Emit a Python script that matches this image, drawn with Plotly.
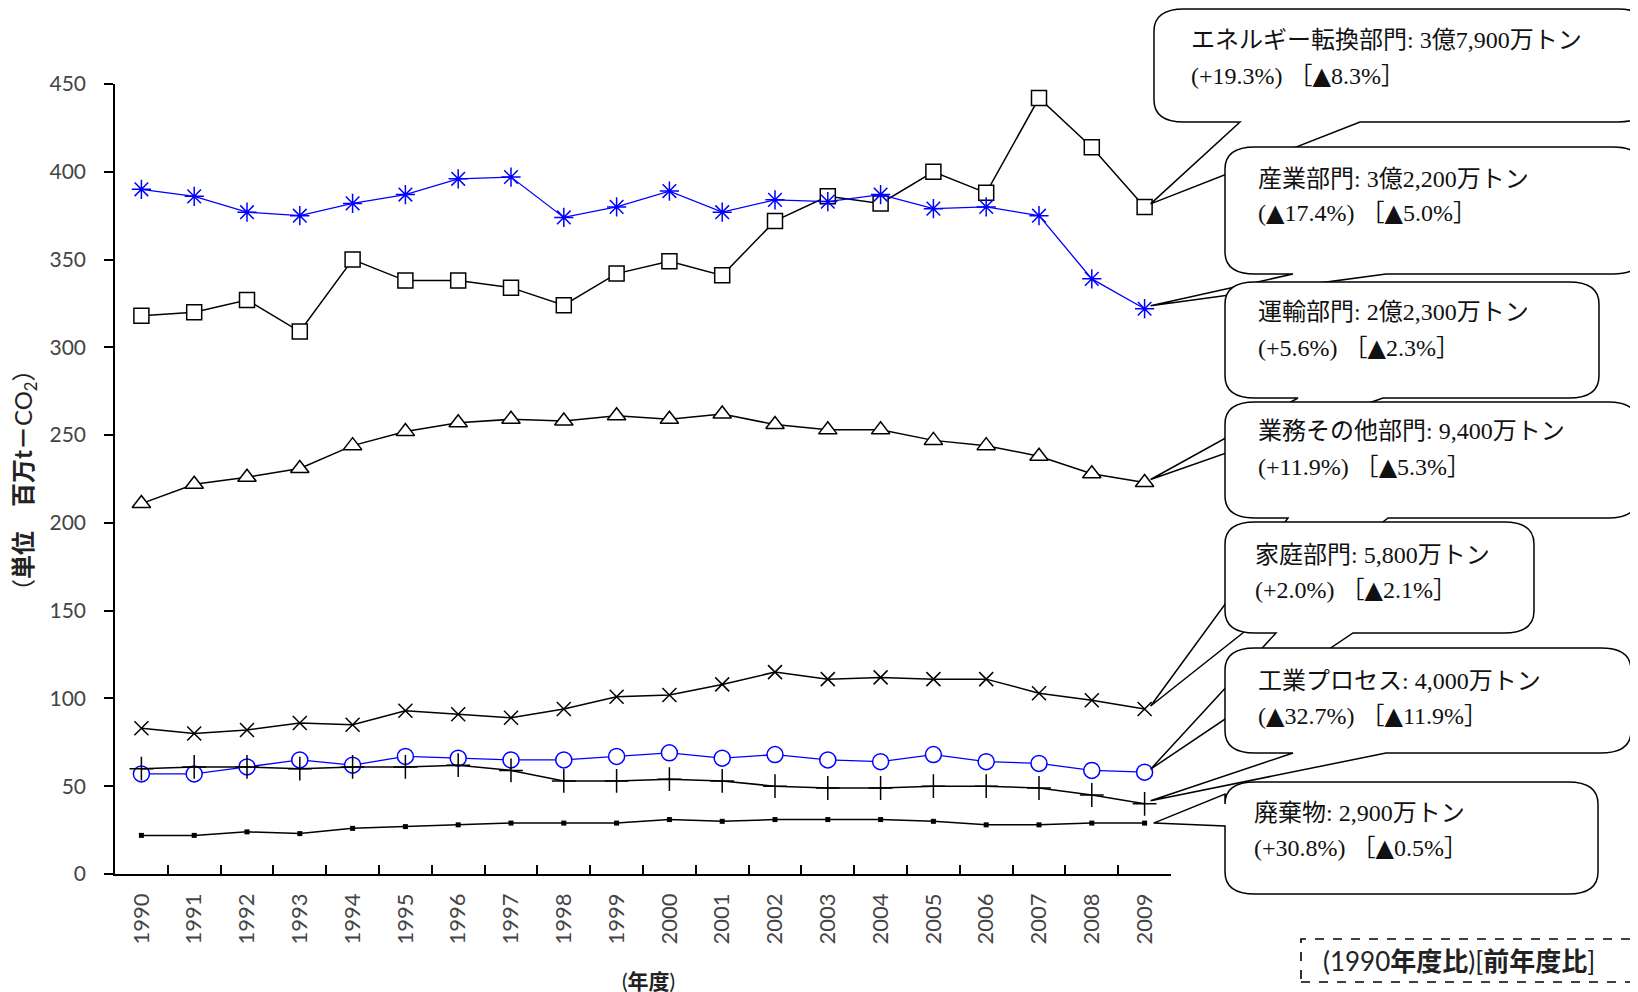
import plotly.graph_objects as go

years = [str(y) for y in range(1990, 2010)]
energy = [318, 320, 327, 309, 350, 338, 338, 334, 324, 342, 349, 341, 372, 386, 382, 400, 388, 442, 414, 380]
industry = [390, 386, 377, 375, 382, 387, 396, 397, 374, 380, 389, 377, 384, 383, 387, 379, 380, 375, 339, 322]
transport = [211, 222, 226, 231, 244, 252, 257, 259, 258, 261, 259, 262, 256, 253, 253, 247, 244, 238, 228, 223]
business = [83, 80, 82, 86, 85, 93, 91, 89, 94, 101, 102, 108, 115, 111, 112, 111, 111, 103, 99, 94]
household = [57, 57, 61, 65, 62, 67, 66, 65, 65, 67, 69, 66, 68, 65, 64, 68, 64, 63, 59, 58]
process = [60, 61, 61, 60, 61, 61, 62, 59, 53, 53, 54, 53, 50, 49, 49, 50, 50, 49, 45, 40]
waste = [22, 22, 24, 23, 26, 27, 28, 29, 29, 29, 31, 30, 31, 31, 31, 30, 28, 28, 29, 29]

TRI = '<span style="font-family:\'DejaVu Sans\'">▲</span>'
labels1 = ["エネルギー転換部門: 3億7,900万トン", "産業部門: 3億2,200万トン", "運輸部門: 2億2,300万トン",
           "業務その他部門: 9,400万トン", "家庭部門: 5,800万トン", "工業プロセス: 4,000万トン", "廃棄物: 2,900万トン"]
labels2 = ["(+19.3%) ［▲8.3%］", "(▲17.4%) ［▲5.0%］", "(+5.6%) ［▲2.3%］",
           "(+11.9%) ［▲5.3%］", "(+2.0%) ［▲2.1%］", "(▲32.7%) ［▲11.9%］", "(+30.8%) ［▲0.5%］"]

W, H = 1638, 992
L, T, R, B = 107, 76, 1163, 866
PW, PH = R - L, B - T
YMAX = 450

fig = go.Figure()
BLUE = "#0000FF"
# values, colour, symbol, size, line width, filled-white?
series = [
    (energy, "black", "square", 15, 1.5, True),
    (industry, BLUE, "asterisk-open", 16, 1.3, False),
    (transport, "black", "triangle-up", 16, 1.5, True),
    (business, "black", "x-thin-open", 14, 1.5, False),
    (household, BLUE, "circle", 16, 1.3, True),
    (process, "black", "cross-thin-open", 17, 1.5, False),
    (waste, "black", "square", 5, 1.5, None),
]
for vals, col, sym, sz, lw, filled in series:
    if filled is True:
        mk = dict(symbol=sym, size=sz, color="white", line=dict(color=col, width=1.5))
    elif filled is False:
        mk = dict(symbol=sym, size=sz, color=col, line=dict(color=col, width=1.5))
    else:
        mk = dict(symbol=sym, size=sz, color=col, line=dict(width=0))
    fig.add_trace(go.Scatter(x=years, y=vals, mode="lines+markers",
                             line=dict(color=col, width=lw), marker=mk,
                             showlegend=False, cliponaxis=False))


def xp(px):
    return (px - L) / PW


def yp(py):
    return (B - py) / PH


def data_px(i, v):
    return L + (i + 0.5) * PW / len(years), T + (YMAX - v) / YMAX * PH


def callout(x0, y0, x1, y1, tip, bottom=None, left=None, rx=30, ry=22):
    def P(x, y):
        return f"{xp(x):.5f},{yp(y):.5f}"
    s = f"M {P(x0 + rx, y0)} L {P(x1 - rx, y0)} Q {P(x1, y0)} {P(x1, y0 + ry)} "
    s += f"L {P(x1, y1 - ry)} Q {P(x1, y1)} {P(x1 - rx, y1)} "
    if bottom:
        s += f"L {P(bottom[1], y1)} L {P(*tip)} L {P(bottom[0], y1)} "
    s += f"L {P(x0 + rx, y1)} Q {P(x0, y1)} {P(x0, y1 - ry)} "
    if left:
        s += f"L {P(x0, left[1])} L {P(*tip)} L {P(x0, left[0])} "
    s += f"L {P(x0, y0 + ry)} Q {P(x0, y0)} {P(x0 + rx, y0)} Z"
    fig.add_shape(type="path", path=s, xref="paper", yref="paper",
                  fillcolor="white", line=dict(color="black", width=1.5), layer="above")


last = len(years) - 1
boxes = [
    # x0, y0, x1, y1, text-left, line1 y, line2 y, series, bottom tail bases, left tail
    (1146, 1, 1640, 114, 1181, 32, 68, energy, (1232, 1352), None),
    (1217, 139, 1635, 266, 1248, 171, 205, industry, (1285, 1378), None),
    (1217, 274, 1591, 390, 1248, 304, 340, transport, (1290, 1375), None),
    (1217, 394, 1630, 510, 1248, 423, 459, business, (1280, 1380), None),
    (1217, 514, 1526, 625, 1245, 547, 582, household, (1268, 1345), None),
    (1217, 640, 1623, 745, 1248, 673, 708, process, (1285, 1378), None),
    (1217, 774, 1590, 886, 1244, 805, 840, waste, None, (786, 818)),
]
for k, (x0, y0, x1, y1, tx, l1, l2, ser, bt, lt) in enumerate(boxes):
    px, py = data_px(last, ser[last])
    tip = (px + (9 if lt else 6), py - (0 if lt else 3))
    callout(x0, y0, x1, y1, tip, bottom=bt, left=lt)
    for txt, yy in ((labels1[k], l1), (labels2[k].replace("▲", TRI), l2)):
        fig.add_annotation(x=xp(tx), y=yp(yy), xref="paper", yref="paper", text=txt,
                           showarrow=False, xanchor="left", yanchor="middle", align="left",
                           font=dict(family="Liberation Serif, Noto Sans CJK JP", size=24, color="#111"))

# dashed note box
fig.add_shape(type="rect", xref="paper", yref="paper", x0=xp(1293), x1=xp(1625), y0=yp(974), y1=yp(931),
              line=dict(color="black", width=1.6, dash="dash"), fillcolor="white", layer="above")
fig.add_annotation(x=xp(1451), y=yp(953), xref="paper", yref="paper", xanchor="center", yanchor="middle",
                   text="(1990<b>年度比</b>)[<b>前年度比</b>]", showarrow=False,
                   font=dict(family="Lato, Noto Sans CJK JP", size=26, color="#222"))

# axis titles
fig.add_annotation(x=xp(16), y=yp(472), xref="paper", yref="paper", textangle=-90,
                   xanchor="center", yanchor="middle",
                   text="（<b>単位　百万t－</b>CO<sub>2</sub>）", showarrow=False,
                   font=dict(family="Lato, Noto Sans CJK JP", size=24, color="#222"))
fig.add_annotation(x=xp(640), y=yp(972), xref="paper", yref="paper", xanchor="center", yanchor="middle",
                   text="(<b>年度</b>)", showarrow=False,
                   font=dict(family="Lato, Noto Sans CJK JP", size=21, color="#222"))

fig.update_layout(
    width=W, height=H, paper_bgcolor="white", plot_bgcolor="white",
    margin=dict(l=L, r=W - R, t=T, b=H - B, autoexpand=False),
    xaxis=dict(type="category", range=[-0.5, len(years) - 0.5], tickangle=-90,
               ticks="inside", tickson="boundaries", ticklen=9, tickcolor="black", tickwidth=1.5,
               showline=True, linecolor="black", linewidth=1.5, showgrid=False, zeroline=False,
               ticklabelstandoff=9,
               tickfont=dict(family="Lato", size=22, color="#444")),
    yaxis=dict(range=[0, YMAX], dtick=50, ticks="outside", ticklen=9, tickcolor="black", tickwidth=1.5,
               showline=True, linecolor="black", linewidth=1.5, showgrid=False, zeroline=False,
               ticklabelstandoff=14,
               tickfont=dict(family="Lato", size=21, color="#444")),
)
fig.write_html("out.html")
